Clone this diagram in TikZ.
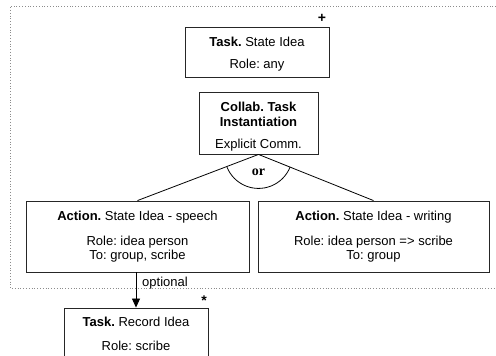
\documentclass[tikz,border=0pt]{standalone}
\usepackage{fontspec}
\setmainfont{Liberation Sans}
\newfontfamily\orfont{Liberation Serif}
\usetikzlibrary{arrows.meta}
\frenchspacing
\begin{document}
\begin{tikzpicture}[x=1pt,y=-1pt,
  box/.style={draw=black!85,line width=0.9pt,inner sep=0pt,anchor=center},
  txt/.style={inner sep=0pt,font=\fontsize{13}{15}\selectfont\frenchspacing,anchor=center},
  conn/.style={draw=black,line width=0.8pt},
  frame/.style={draw=black!45,line width=0.8pt,dotted}]
\useasboundingbox (0,0) rectangle (496,356);
\begin{scope}
\clip (0,0) rectangle (496,356);
% dotted frame
\coordinate (f1) at (496,6);
\coordinate (f2) at (10,6);
\coordinate (f3) at (10,288);
\coordinate (f4) at (496,288);
\draw[frame] (f1) -- (f2) -- (f3) -- (f4);
% boxes
\node[box,minimum width=144,minimum height=50] (task) at (257,52) {};
\node[box,minimum width=119,minimum height=62] (collab) at (258.5,123) {};
\node[box,minimum width=223,minimum height=71] (actL) at (137.5,236.5) {};
\node[box,minimum width=231,minimum height=71] (actR) at (373.5,236.5) {};
\node[box,minimum width=144,minimum height=50] (rec) at (136,333) {};
% texts
\node[txt] (t1) at (257,42) {\textbf{Task.} State Idea};
\node[txt] (t2) at (257,65) {Role: any};
\node[txt,font=\fontsize{14}{16}\selectfont\bfseries] (plus) at (322,18) {+};
\node[txt] (c1) at (258.5,106.5) {\textbf{Collab. Task}};
\node[txt] (c2) at (258.5,121.5) {\textbf{Instantiation}};
\node[txt] (c3) at (258.5,145) {Explicit Comm.};
\node[txt] (l1) at (137.5,217) {\textbf{Action.} State Idea - speech};
\node[txt] (l2) at (137.5,242) {Role: idea person};
\node[txt] (l3) at (137.5,256.5) {To: group, scribe};
\node[txt] (r1) at (373.5,217) {\textbf{Action.} State Idea - writing};
\node[txt] (r2) at (373.5,242) {Role: idea person => scribe};
\node[txt] (r3) at (373.5,256.5) {To: group};
\node[txt] (k1) at (136,322) {\textbf{Task.} Record Idea};
\node[txt] (k2) at (136,346) {Role: scribe};
\node[txt,font=\fontsize{14}{16}\selectfont\bfseries] (star) at (204,301) {*};
\node[txt,anchor=west] (opt) at (142,283) {optional};
% connectors
\draw[conn] (collab.south) -- (actL.north);
\draw[conn] (collab.south) -- (actR.north);
\draw[conn] ([shift={(-31.5,12.7)}]collab.south) arc[start angle=158,end angle=22,radius=34];
\node[inner sep=0pt,font=\orfont\bfseries\fontsize{14}{16}\selectfont] (or) at (258.5,172) {or};
\draw[conn,-{Triangle[width=8pt,length=9pt]}] (rec.north |- actL.south) -- (rec.north);
\end{scope}
\end{tikzpicture}
\end{document}
